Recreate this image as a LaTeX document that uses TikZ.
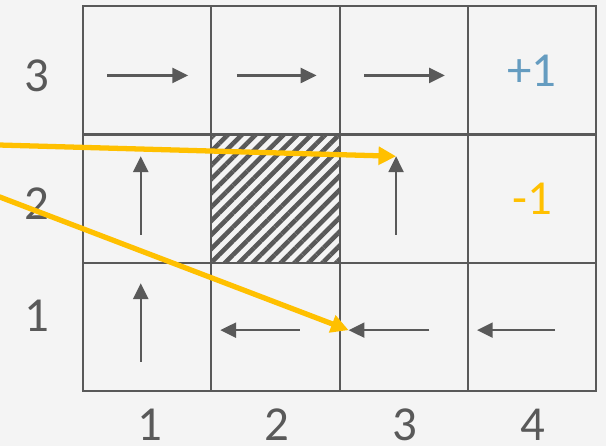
\documentclass[tikz,border=0pt]{standalone}
\usepackage{fontspec}
\setmainfont{Carlito}
\usepackage{tikz}
\usetikzlibrary{
  calc,
  arrows.meta,
  patterns.meta
}
\definecolor{ink}{HTML}{595959}
\definecolor{paper}{HTML}{F4F4F4}
\definecolor{gold}{HTML}{FFC000}
\definecolor{steel}{HTML}{659CC0}
\tikzset{
  cell/.style={rectangle, draw=ink, line width=1.2pt, minimum size=2.566cm,
    inner sep=0pt, font=\fontsize{27.8}{33}\selectfont},
  wall/.style={cell, pattern={Lines[angle=45, distance=5.6pt, line width=2.6pt]},
    pattern color=ink},
  move/.style={-{Triangle[length=9pt, width=8.5pt]}, draw=ink, line width=1.4pt},
  trace/.style={-{Triangle[length=10pt, width=10pt]}, draw=gold, line width=3pt},
  axis/.style={text=ink, inner sep=0pt, font=\fontsize{27.8}{33}\selectfont}
}

\begin{document}
\begin{tikzpicture}[x=2.566cm, y=2.566cm]

% background
\fill[paper] (-0.647,-0.429) rectangle (4.076,3.048);
\useasboundingbox (-0.647,-0.429) rectangle (4.076,3.048);

% cells
\node[cell] (c11) at (0.5,0.5) {};
\node[cell] (c21) at (1.5,0.5) {};
\node[cell] (c31) at (2.5,0.5) {};
\node[cell] (c41) at (3.5,0.5) {};
\node[cell] (c12) at (0.5,1.5) {};
\node[wall] (c22) at (1.5,1.5) {};
\node[cell] (c32) at (2.5,1.5) {};
\node[cell, text=gold]  (c42) at (3.5,1.5) {-1};
\node[cell] (c13) at (0.5,2.5) {};
\node[cell] (c23) at (1.5,2.5) {};
\node[cell] (c33) at (2.5,2.5) {};
\node[cell, text=steel] (c43) at (3.5,2.5) {+1};

% row and column labels
\node[axis] (r3) at (-0.36,2.46) {3};
\node[axis] (r2) at (-0.36,1.46) {2};
\node[axis] (r1) at (-0.36,0.585) {1};
\node[axis] (k1) at (0.52,-0.26) {1};
\node[axis] (k2) at (1.51,-0.26) {2};
\node[axis] (k3) at (2.51,-0.26) {3};
\node[axis] (k4) at (3.51,-0.26) {4};

% policy
\draw[move] ($(c13)+(-0.31,-0.04)$) -- ($(c13)+(0.32,-0.04)$);
\draw[move] ($(c23)+(-0.30,-0.04)$) -- ($(c23)+(0.32,-0.04)$);
\draw[move] ($(c33)+(-0.31,-0.04)$) -- ($(c33)+(0.32,-0.04)$);
\draw[move] ($(c12)+(-0.05,-0.28)$) -- ($(c12)+(-0.05,0.33)$);
\coordinate (tip32) at ($(c32)+(-0.06,0.33)$);
\draw[move] ($(c32)+(-0.06,-0.28)$) -- (tip32);
\draw[move] ($(c11)+(-0.05,-0.27)$) -- ($(c11)+(-0.05,0.34)$);
\draw[move] ($(c21)+(0.19,-0.025)$) -- ($(c21)+(-0.43,-0.025)$);
\coordinate (tip31) at ($(c31)+(-0.43,-0.025)$);
\draw[move] ($(c31)+(0.20,-0.025)$) -- (tip31);
\draw[move] ($(c41)+(0.18,-0.025)$) -- ($(c41)+(-0.43,-0.025)$);

% traces
\coordinate (inA) at (-0.66,1.918);
\coordinate (inB) at (-0.66,1.517);
\draw[trace] (inA) -- (tip32);
\draw[trace] (inB) -- (tip31);

\end{tikzpicture}
\end{document}
